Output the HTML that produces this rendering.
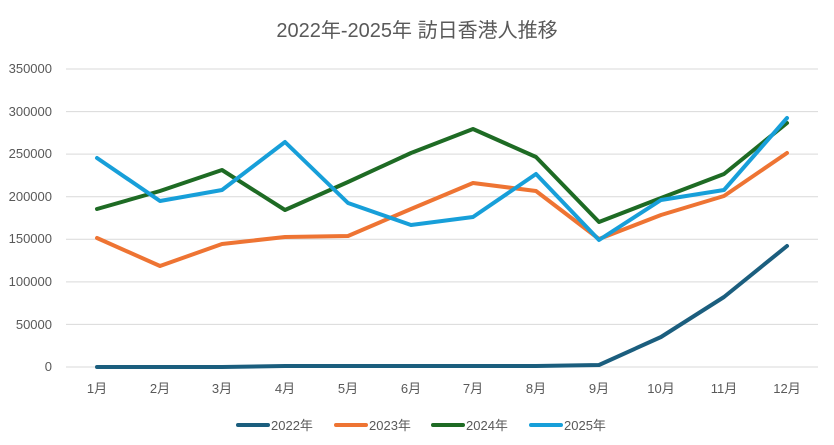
<!DOCTYPE html>
<html><head><meta charset="utf-8"><style>
body{margin:0;background:#fff;}
svg{display:block;font-family:"Liberation Sans","Noto Sans CJK JP",sans-serif;}
</style></head><body>
<svg width="834" height="445" viewBox="0 0 834 445">
<rect width="834" height="445" fill="#fff"/>
<text x="417" y="37" text-anchor="middle" font-size="20" fill="#595959">2022年-2025年 訪日香港人推移</text>
<g stroke="#d9d9d9" stroke-width="1">
<line x1="66" x2="818" y1="69" y2="69"/><line x1="66" x2="818" y1="111.6" y2="111.6"/>
<line x1="66" x2="818" y1="154.1" y2="154.1"/><line x1="66" x2="818" y1="196.7" y2="196.7"/>
<line x1="66" x2="818" y1="239.3" y2="239.3"/><line x1="66" x2="818" y1="281.9" y2="281.9"/>
<line x1="66" x2="818" y1="324.4" y2="324.4"/><line x1="66" x2="818" y1="367" y2="367"/>
</g>
<g font-size="13" fill="#595959" text-anchor="end">
<text x="52" y="73">350000</text><text x="52" y="116">300000</text><text x="52" y="158">250000</text>
<text x="52" y="201">200000</text><text x="52" y="243">150000</text><text x="52" y="286">100000</text>
<text x="52" y="329">50000</text><text x="52" y="371">0</text>
</g>
<g font-size="13" fill="#595959" text-anchor="middle">
<text x="97" y="393">1月</text><text x="160" y="393">2月</text><text x="222" y="393">3月</text>
<text x="285" y="393">4月</text><text x="348" y="393">5月</text><text x="411" y="393">6月</text>
<text x="473" y="393">7月</text><text x="536" y="393">8月</text><text x="599" y="393">9月</text>
<text x="661" y="393">10月</text><text x="724" y="393">11月</text><text x="787" y="393">12月</text>
</g>
<g fill="none" stroke-width="4" stroke-linejoin="round" stroke-linecap="round">
<polyline stroke="#1b5e7e" points="97,367 160,367 222,367 285,366 348,366 411,366 473,366 536,366 599,365 661,337 724,297 787,246"/>
<polyline stroke="#ee7433" points="97,238 160,266 222,244 285,237 348,236 411,209 473,183 536,191 599,239 661,215 724,196 787,153"/>
<polyline stroke="#1e6b24" points="97,209 160,191 222,170 285,210 348,182 411,153 473,129 536,157 599,222 661,198 724,174 787,123"/>
<polyline stroke="#179fd9" points="97,158 160,201 222,190 285,142 348,203 411,225 473,217 536,174 599,240 661,200 724,190 787,118"/>
</g>
<g stroke-width="4" stroke-linecap="round">
<line x1="238" x2="268" y1="425" y2="425" stroke="#1b5e7e"/>
<line x1="336" x2="366" y1="425" y2="425" stroke="#ee7433"/>
<line x1="433" x2="463" y1="425" y2="425" stroke="#1e6b24"/>
<line x1="531" x2="561" y1="425" y2="425" stroke="#179fd9"/>
</g>
<g font-size="13" fill="#595959">
<text x="271" y="430">2022年</text><text x="369" y="430">2023年</text>
<text x="466" y="430">2024年</text><text x="564" y="430">2025年</text>
</g>
</svg>
</body></html>
